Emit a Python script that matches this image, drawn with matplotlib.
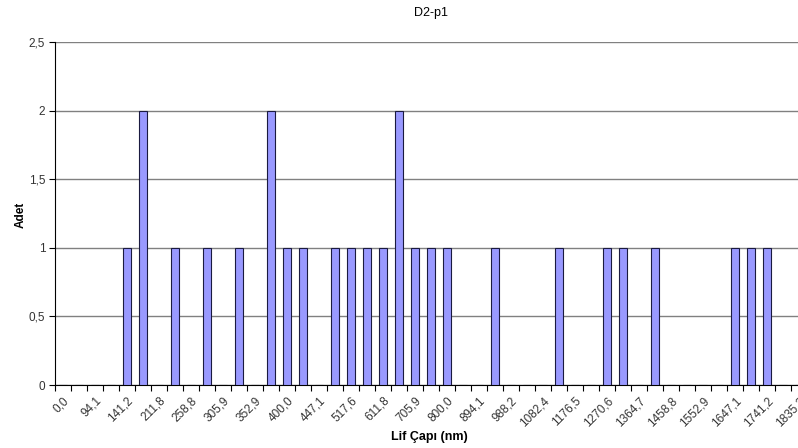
import matplotlib

matplotlib.use("Agg")
import matplotlib.pyplot as plt
import numpy as np

# histogram categories (fiber diameter bins, nm); only every other one is labelled
categories = [
    "0,0", "47,1", "94,1", "117,6", "141,2", "164,7", "211,8", "235,3",
    "258,8", "282,4", "305,9", "329,4", "352,9", "376,5", "400,0", "423,5",
    "447,1", "494,1", "517,6", "564,7", "611,8", "658,8", "705,9", "752,9",
    "800,0", "847,1", "894,1", "941,2", "988,2", "1035,3", "1082,4", "1129,4",
    "1176,5", "1223,5", "1270,6", "1317,6", "1364,7", "1411,8", "1458,8",
    "1505,9", "1552,9", "1600,0", "1647,1", "1694,1", "1741,2", "1788,2",
    "1835,3",
]
counts = [
    0, 0, 0, 0, 1, 2, 0, 1, 0, 1, 0, 1, 0, 2, 1, 1,
    0, 1, 1, 1, 1, 2, 1, 1, 1, 0, 0, 1, 0, 0, 0, 1,
    0, 0, 1, 1, 0, 1, 0, 0, 0, 0, 1, 1, 1, 0, 0,
]
y_ticks = [0, 0.5, 1, 1.5, 2, 2.5]
y_labels = ["0", "0,5", "1", "1,5", "2", "2,5"]

plt.rcParams["font.family"] = ["Liberation Sans", "DejaVu Sans"]

W, H = 798, 448
fig = plt.figure(figsize=(W / 100, H / 100), dpi=100)
n = len(categories)
# plot area runs past the right edge of the picture, as in the original crop
ax = fig.add_axes([55 / W, (H - 385) / H, 16 * n / W, (385 - 42) / H])

x = np.arange(n)
ax.bar(x, counts, width=0.45, color="#9999FF", edgecolor="#1a1a40",
       linewidth=0.8, zorder=3)

ax.set_xlim(-0.5, n - 0.5)
ax.set_ylim(0, 2.5)
ax.set_yticks(y_ticks)
ax.set_yticklabels(y_labels, fontsize=8.5, color="#333333")
ax.yaxis.grid(True, color="#808080", linewidth=1.0, zorder=0)

ax.set_xticks(x[::2])
ax.set_xticklabels(categories[::2], rotation=45, ha="right",
                   rotation_mode="anchor", fontsize=8.5, color="#333333")
ax.set_xticks(np.arange(-0.5, n, 1), minor=True)
ax.tick_params(axis="x", which="major", length=0, pad=7)
ax.tick_params(axis="x", which="minor", length=4, width=0.8, direction="out")
ax.tick_params(axis="y", length=4, width=0.8, direction="out", pad=3)

for side in ["top", "right"]:
    ax.spines[side].set_visible(False)
ax.spines["left"].set_color("black")
ax.spines["bottom"].set_color("black")

fig.text(21 / W, 1 - 215 / H, "Adet", fontsize=8.5, fontweight="bold",
         rotation=90, ha="center", va="center")
fig.text(429 / W, 1 - 437 / H, "Lif Çapı (nm)", fontsize=9,
         fontweight="bold", ha="center", va="center")
fig.text(431 / W, 1 - 13 / H, "D2-p1", fontsize=9, ha="center", va="center")

fig.savefig("out.png", dpi=100)
